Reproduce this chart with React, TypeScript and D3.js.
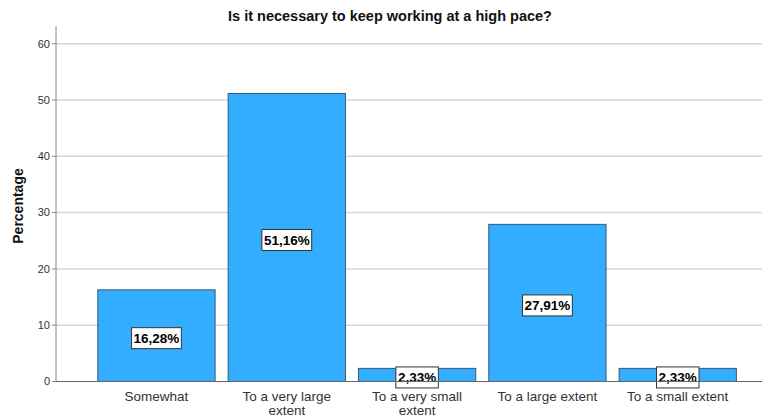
import React from "react";
import * as d3 from "d3";

const categories = ["Somewhat", "To a very large extent", "To a very small extent", "To a large extent", "To a small extent"];
const categoryLines = [["Somewhat"], ["To a very large", "extent"], ["To a very small", "extent"], ["To a large extent"], ["To a small extent"]];
const values = [16.28, 51.16, 2.33, 27.91, 2.33];
const labels = ["16,28%", "51,16%", "2,33%", "27,91%", "2,33%"];
const yTicks = [0, 10, 20, 30, 40, 50, 60];

const W = 767;
const H = 417;

export default function App() {
  const plotLeft = 56;
  const plotRight = 762;
  const plotTop = 26;
  const y = d3.scaleLinear().domain([0, 60]).range([381.5, 43.7]);
  const x = d3.scaleBand<string>().domain(categories).range([91.3, 742.9]).paddingInner(0.1).paddingOuter(0.05);
  const font = "Arial, 'Liberation Sans', sans-serif";

  return (
    <svg width={W} height={H} style={{ position: "absolute", left: 0, top: 0, background: "#fff" }} fontFamily={font}>
      <rect x={0} y={0} width={W} height={H} fill="#fff" />
      <text x={390} y={21} textAnchor="middle" fontSize={14.5} fontWeight="bold" fill="#111">
        Is it necessary to keep working at a high pace?
      </text>
      {yTicks.filter((t) => t > 0).map((t) => (
        <line key={"g" + t} x1={plotLeft} x2={plotRight} y1={y(t)} y2={y(t)} stroke="#d6d6d6" strokeWidth={1.5} />
      ))}
      {yTicks.map((t) => (
        <g key={"t" + t}>
          <line x1={plotLeft - 4} x2={plotLeft} y1={y(t)} y2={y(t)} stroke="#888" />
          <text x={50} y={y(t)} dy="0.35em" textAnchor="end" fontSize={11} fill="#333">
            {t}
          </text>
        </g>
      ))}
      <text transform={`translate(23,206) rotate(-90)`} textAnchor="middle" fontSize={14} fontWeight="bold" fill="#111">
        Percentage
      </text>
      {categories.map((c, i) => {
        const bx = x(c)!;
        const bw = x.bandwidth();
        const top = y(values[i]);
        const bottom = y(0);
        const cx = bx + bw / 2;
        const cy = (top + bottom) / 2 + 2.5;
        const lw = labels[i].length * 7.3 + 6;
        return (
          <g key={c}>
            <rect x={bx} y={top} width={bw} height={bottom - top} fill="#33adff" stroke="#3a5a78" strokeWidth={1} />
            <rect x={cx - lw / 2} y={cy - 10.5} width={lw} height={21} fill="#fff" stroke="#333" strokeWidth={1} />
            <text x={cx} y={cy} dy="0.36em" textAnchor="middle" fontSize={13.5} fontWeight="bold" fill="#000">
              {labels[i]}
            </text>
            {categoryLines[i].map((ln, j) => (
              <text key={j} x={cx} y={401 + j * 14} textAnchor="middle" fontSize={13.5} fill="#333">
                {ln}
              </text>
            ))}
          </g>
        );
      })}
      <line x1={plotLeft} x2={plotLeft} y1={plotTop} y2={y(0)} stroke="#888" strokeWidth={1} />
      <line x1={plotLeft} x2={plotRight} y1={y(0)} y2={y(0)} stroke="#666" strokeWidth={1} />
    </svg>
  );
}
